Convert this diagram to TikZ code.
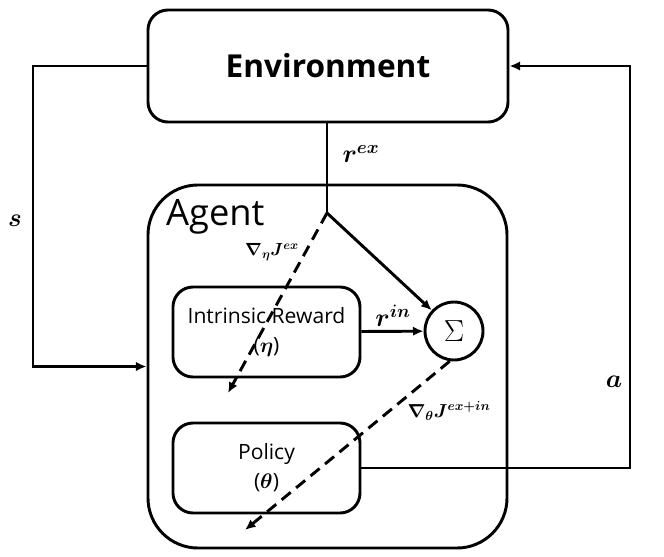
\RequirePackage{fix-cm}
\documentclass[tikz,border=0pt]{standalone}
\usepackage{fontspec}
\setsansfont{Open Sans}
\usepackage{bm}
\usetikzlibrary{arrows.meta}

\tikzset{RLbox/.style={draw,line width=2.5pt,rounded corners=0.6cm,font=\sffamily\fontsize{18}{25}\selectfont,align=center},
         RLline/.style={line width=2.5pt,-{Latex[length=9pt,width=8pt]}},
         RLdash/.style={line width=2.5pt,dash pattern=on 10pt off 6pt,-{Latex[length=9pt,width=8pt]}},
         RLlab/.style={font=\fontsize{22}{24}\selectfont}}

\begin{document}
\begin{tikzpicture}[x=0.03cm,y=-0.03cm]
  \useasboundingbox (0,0) rectangle (664,557);
  % boxes
  \node[RLbox,minimum width=10.8cm,minimum height=3.36cm,font=\sffamily\bfseries\fontsize{27}{30}\selectfont] (env) at (328,66) {Environment};
  \node[RLbox,rounded corners=1.5cm,minimum width=10.77cm,minimum height=10.89cm] (agent) at (327.5,366.5) {};
  \node[anchor=west,font=\sffamily\fontsize{31}{34}\selectfont] (agentlab) at (162,217) {Agent};
  \node[RLbox,minimum width=5.61cm,minimum height=2.7cm] (ir) at (266.5,332) {Intrinsic Reward\\($\bm{\eta}$)};
  \node[RLbox,minimum width=5.61cm,minimum height=2.7cm] (pol) at (266.5,468) {Policy\\($\bm{\theta}$)};
  \node[draw,circle,line width=2.5pt,minimum size=1.74cm,inner sep=0pt,font=\fontsize{26}{30}\selectfont] (sum) at (454,331) {$\Sigma$};
  % free ends
  \coordinate (j) at (327,213);
  \coordinate (g1) at (228,393);
  \coordinate (g2) at (245,530);
  \coordinate (acorner) at (630,66);
  \coordinate (sleft) at (33,200);
  % connectors
  \draw[line width=2.5pt] (env.south -| j) -- (j);
  \draw[RLline] (j) -- (sum);
  \draw[RLdash] (j) -- (g1);
  \draw[RLline] (ir) -- (sum);
  \draw[RLdash] (sum.262) -- (g2);
  \draw[RLline] (pol.east) -| (acorner) -- (env.east);
  \draw[RLline] (env.west) -| (sleft) |- (agent.west);
  % labels
  \node[RLlab] (rex) at (361,154) {$\bm{r^{ex}}$};
  \node[RLlab,font=\fontsize{15}{18}\selectfont] (gex) at (272,252) {$\bm{\nabla_{\eta}J^{ex}}$};
  \node[RLlab] (rin) at (393,316) {$\bm{r^{in}}$};
  \node[RLlab,font=\fontsize{16}{18}\selectfont] (gin) at (449,411) {$\bm{\nabla_{\theta}J^{ex+in}}$};
  \node[RLlab] (alab) at (614,382) {$\bm{a}$};
  \node[RLlab] (slab) at (15,221) {$\bm{s}$};
\end{tikzpicture}
\end{document}
